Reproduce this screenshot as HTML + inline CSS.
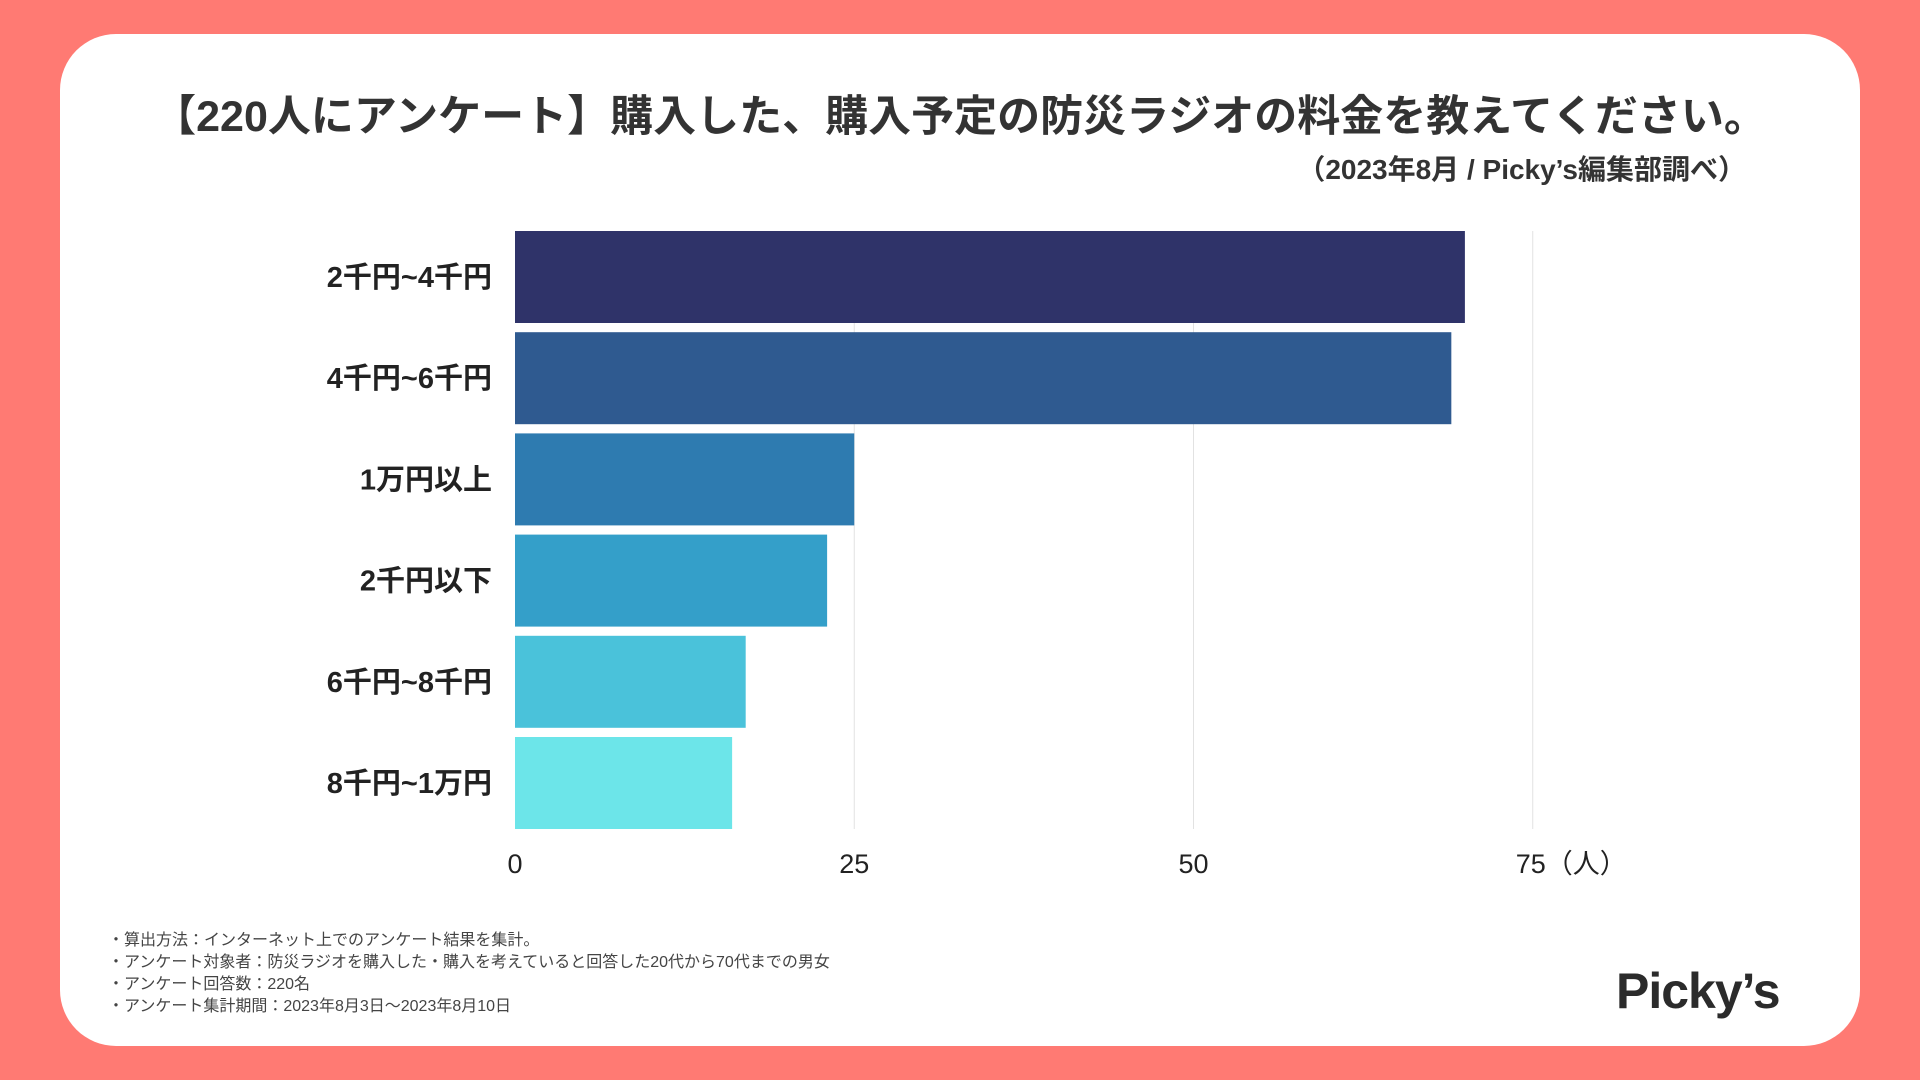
<!DOCTYPE html>
<html><head><meta charset="utf-8"><style>
html,body{margin:0;padding:0;width:1920px;height:1080px;overflow:hidden;background:#FF7A73;font-family:"Liberation Sans","Noto Sans CJK JP",sans-serif;}
#card{position:absolute;left:60px;top:34px;width:1800px;height:1012px;background:#fff;border-radius:56px;}
.t{position:absolute;white-space:nowrap;}
</style></head><body>
<div id="card"></div>
<div class="t" style="left:0;width:1920px;text-align:center;top:82px;font-size:43px;font-weight:bold;color:#333;">【220人にアンケート】購入した、購入予定の防災ラジオの料金を教えてください。</div>
<div class="t" style="right:174px;top:148px;font-size:28px;font-weight:bold;color:#333;">（2023年8月 / Picky’s編集部調べ）</div>
<svg id="chart" width="1920" height="1080" style="position:absolute;left:0;top:0"></svg>
<div class="t" style="left:108px;top:930px;font-size:16px;line-height:22px;color:#444;">・算出方法：インターネット上でのアンケート結果を集計。<br>・アンケート対象者：防災ラジオを購入した・購入を考えていると回答した20代から70代までの男女<br>・アンケート回答数：220名<br>・アンケート集計期間：2023年8月3日～2023年8月10日</div>
<div class="t" style="left:1616px;top:962px;font-size:50px;font-weight:bold;color:#2b2b2b;letter-spacing:-1px;">Picky’s</div>
<script>
const categories=["2千円~4千円","4千円~6千円","1万円以上","2千円以下","6千円~8千円","8千円~1万円"];
const values=[70,69,25,23,17,16];
const colors=["#2F3369","#2F5A90","#2E7BB0","#349FC9","#4AC2DA","#6CE5E9"];
const ticks=[0,25,50,75];
const tickLabels=["0","25","50","75（人）"];
const NS="http://www.w3.org/2000/svg";
const svg=document.getElementById('chart');
const x0=515,unit=13.57,top0=231,pitch=101.2,bh=92,gridBottom=829;
const xs=v=>x0+v*unit;
function mk(t,a){const e=document.createElementNS(NS,t);for(const k in a)e.setAttribute(k,a[k]);svg.appendChild(e);return e;}
ticks.forEach((t,i)=>{
  if(t>0){const l=mk('line',{x1:xs(t),x2:xs(t),y1:top0,y2:gridBottom,stroke:'#e2e2e2','stroke-width':1});
  
  }
  const tx=mk('text',{x:xs(t),y:873,'font-size':27,fill:'#222','font-family':'"Liberation Sans","Noto Sans CJK JP",sans-serif','text-anchor':'start'});
  tx.textContent=tickLabels[i];
  tx.setAttribute('x',xs(t)-(i==3?17:(String(t).length*7.5)));
  
  
});
categories.forEach((c,i)=>{
  const y=top0+i*pitch;
  const r=mk('rect',{x:x0,y:y,width:xs(values[i])-x0,height:bh,fill:colors[i]});
  
  
  const tx=mk('text',{x:492,y:y+bh/2+10,'font-size':29,'font-weight':'bold',fill:'#222','text-anchor':'end','font-family':'"Liberation Sans","Noto Sans CJK JP",sans-serif'});
  tx.textContent=c;
  
  
});
</script>
</body></html>
